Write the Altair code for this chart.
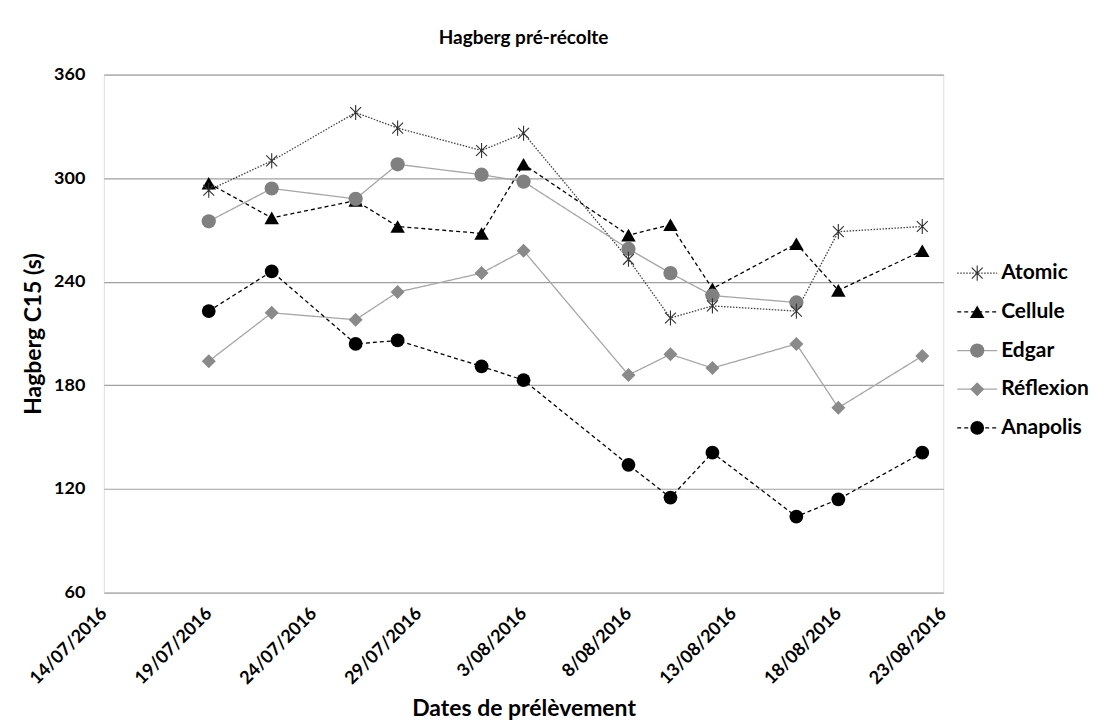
import altair as alt
import pandas as pd

# ---- data ----
dates = ["2016-07-19", "2016-07-22", "2016-07-26", "2016-07-28", "2016-08-01", "2016-08-03",
         "2016-08-08", "2016-08-10", "2016-08-12", "2016-08-16", "2016-08-18", "2016-08-22"]
series_names = ["Atomic", "Cellule", "Edgar", "Réflexion", "Anapolis"]
atomic = [293, 310, 338, 329, 316, 326, 253, 219, 226, 223, 269, 272]
cellule = [297, 277, 287, 272, 268, 308, 267, 273, 236, 262, 235, 258]
edgar = [275, 294, 288, 308, 302, 298, 259, 245, 232, 228, None, None]
reflexion = [194, 222, 218, 234, 245, 258, 186, 198, 190, 204, 167, 197]
anapolis = [223, 246, 204, 206, 191, 183, 134, 115, 141, 104, 114, 141]
y_ticks = [60, 120, 180, 240, 300, 360]
x_ticks = ["2016-07-14", "2016-07-19", "2016-07-24", "2016-07-29", "2016-08-03",
           "2016-08-08", "2016-08-13", "2016-08-18", "2016-08-23"]

values = {"Atomic": atomic, "Cellule": cellule, "Edgar": edgar,
          "Réflexion": reflexion, "Anapolis": anapolis}
rows = []
for s in series_names:
    for d, v in zip(dates, values[s]):
        if v is not None:
            rows.append({"date": d + "T00:00:00", "value": v, "series": s})
df = pd.DataFrame(rows)
leg_df = pd.DataFrame({"series": series_names})

def dt(s):
    y, m, d = (int(p) for p in s.split("-"))
    return alt.DateTime(year=y, month=m, date=d)

FONT = "Lato"
filled = ["Cellule", "Edgar", "Réflexion", "Anapolis"]
STAR = "M0,-1L0,1M-0.72,-0.72L0.72,0.72M-0.72,0.72L0.72,-0.72"

stroke_scale = alt.Scale(domain=series_names,
                         range=["#404040", "#000000", "#a6a6a6", "#a6a6a6", "#000000"])
dash_scale = alt.Scale(domain=series_names,
                       range=[[1.5, 1.5], [4, 3], [1, 0], [1, 0], [4, 3]])
shape_scale = alt.Scale(domain=filled, range=["triangle-up", "circle", "diamond", "circle"])
fill_scale = alt.Scale(domain=filled, range=["#000000", "#808080", "#8a8a8a", "#000000"])
size_scale = alt.Scale(domain=filled, range=[210, 190, 170, 190])

x_enc = alt.X("date:T",
              scale=alt.Scale(domain=[dt(x_ticks[0]), dt(x_ticks[-1])]),
              axis=alt.Axis(values=[dt(t) for t in x_ticks], format="%-d/%m/%Y",
                            labelAngle=-45, labelAlign="right", labelBaseline="middle",
                            labelPadding=18, ticks=False, domain=False, grid=False,
                            labelFont=FONT, labelFontSize=18, labelFontWeight="bold",
                            labelColor="#000", labelOverlap=False,
                            title="Dates de prélèvement", titleFont=FONT, titleFontSize=23,
                            titleFontWeight="bold", titleColor="#000", titlePadding=10))
y_enc = alt.Y("value:Q",
              scale=alt.Scale(domain=[60, 360], nice=False, zero=False),
              axis=alt.Axis(values=y_ticks, ticks=False, domain=False, grid=True,
                            gridColor="#a0a0a0", gridWidth=1.2,
                            labelFont=FONT, labelFontSize=18, labelFontWeight="bold",
                            labelColor="#000", labelPadding=19,
                            title="Hagberg C15 (s)", titleFont=FONT, titleFontSize=23,
                            titleFontWeight="bold", titleColor="#000", titlePadding=8))

base = alt.Chart(df)
lines = base.mark_line(strokeWidth=1.3).encode(
    x=x_enc, y=y_enc,
    stroke=alt.Stroke("series:N", scale=stroke_scale, legend=None),
    strokeDash=alt.StrokeDash("series:N", scale=dash_scale, legend=None),
)
pts = base.transform_filter(alt.FieldOneOfPredicate(field="series", oneOf=filled)).mark_point(
    filled=True, opacity=1).encode(
    x="date:T", y="value:Q",
    shape=alt.Shape("series:N", scale=shape_scale, legend=None),
    fill=alt.Fill("series:N", scale=fill_scale, legend=None),
    size=alt.Size("series:N", scale=size_scale, legend=None),
)
stars = base.transform_filter(alt.datum.series == "Atomic").mark_point(
    filled=False, shape=STAR, size=230, stroke="#303030", strokeWidth=1.1, opacity=1).encode(
    x="date:T", y="value:Q")
main = alt.layer(lines, pts, stars)

# ---- legend drawn to the right of the plot ----
leg_y = alt.Y("series:N",
              scale=alt.Scale(type="point", domain=series_names, range=[199, 354], padding=0),
              axis=None)
lb = alt.Chart(leg_df)
leg_lines = lb.mark_rule(strokeWidth=1.3).encode(
    x=alt.value(855), x2=alt.value(895), y=leg_y,
    stroke=alt.Stroke("series:N", scale=stroke_scale, legend=None),
    strokeDash=alt.StrokeDash("series:N", scale=dash_scale, legend=None),
)
leg_pts = lb.transform_filter(alt.FieldOneOfPredicate(field="series", oneOf=filled)).mark_point(
    filled=True, opacity=1).encode(
    x=alt.value(875), y=leg_y,
    shape=alt.Shape("series:N", scale=shape_scale, legend=None),
    fill=alt.Fill("series:N", scale=fill_scale, legend=None),
    size=alt.Size("series:N", scale=size_scale, legend=None),
)
leg_star = lb.transform_filter(alt.datum.series == "Atomic").mark_point(
    filled=False, shape=STAR, size=230, stroke="#303030", strokeWidth=1.1, opacity=1).encode(
    x=alt.value(875), y=leg_y)
leg_text = lb.mark_text(align="left", baseline="middle", font=FONT, fontSize=21,
                        fontWeight="bold", color="#000").encode(
    x=alt.value(899), y=leg_y, text="series:N")
legend = alt.layer(leg_lines, leg_pts, leg_star, leg_text)

chart = alt.layer(main, legend).resolve_scale(y="independent").properties(
    width=841, height=519,
    title=alt.TitleParams("Hagberg pré-récolte", font=FONT, fontSize=19, fontWeight="bold",
                          color="#000", frame="group", anchor="middle", offset=18),
    padding={"left": 14, "top": 20, "right": 0, "bottom": 0},
).configure_view(stroke="#7f7f7f", strokeWidth=1.2).configure(background="white")

chart.save("out.html", embed_options={"renderer": "svg", "actions": False})
